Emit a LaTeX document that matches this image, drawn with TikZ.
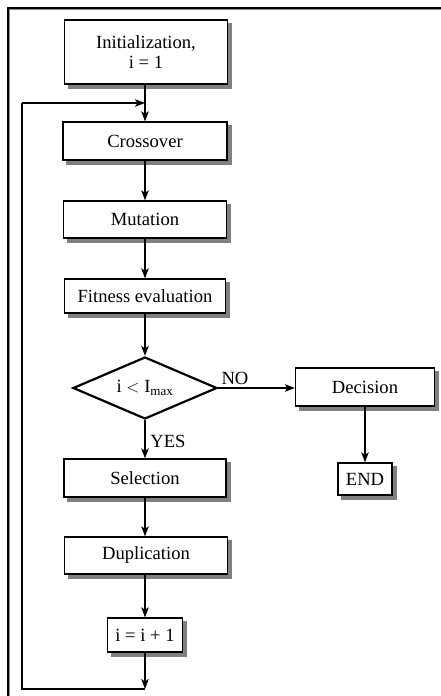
\documentclass[tikz,border=0pt]{standalone}
\usepackage{fontspec}
\setmainfont{Liberation Serif}
\usetikzlibrary{arrows.meta,shapes.geometric,backgrounds}
\begin{document}
\begin{tikzpicture}[x=1pt,y=-1pt,
  font=\fontsize{18.6}{21}\selectfont,
  stepbox/.style={draw=black,line width=1.3pt,fill=white,inner sep=0pt,align=center},
  shadowbox/.style={fill=black!50},
  testbox/.style={draw=black,line width=2.2pt,fill=white,shape=diamond,inner sep=0pt,aspect=2.3},
  arr/.style={line width=1.5pt,-{Stealth[length=10pt,width=7.5pt,inset=2.5pt]}},
  plain/.style={line width=1.5pt},
  lbl/.style={inner sep=0pt}]
\useasboundingbox (0,0) rectangle (441,696);
% frame (only top and left visible)
\draw[black!45,line width=1.5pt] (9.5,700) -- (9.5,9.5) -- (445,9.5);
\draw[black,line width=1.5pt] (8,700) -- (8,8) -- (445,8);
% nodes
\node[stepbox,minimum width=163pt,minimum height=64pt] (init) at (146,52) {Initialization,\\[-1pt] i = 1};
\node[stepbox,minimum width=164pt,minimum height=38pt] (cross) at (145,141) {Crossover};
\node[stepbox,minimum width=163pt,minimum height=37pt] (mut) at (145,219.5) {Mutation};
\node[stepbox,minimum width=161pt,minimum height=34pt] (fit) at (145,296) {Fitness evaluation};
\node[testbox,minimum width=144pt,minimum height=62pt] (test) at (145,388) {i $<$ I\textsubscript{max}};
\node[stepbox,minimum width=162pt,minimum height=38pt] (sel) at (145,478) {Selection};
\node[stepbox,minimum width=163pt,minimum height=37pt] (dup) at (146,555.5) {Duplication};
\node[stepbox,minimum width=75pt,minimum height=34pt] (inc) at (145,635) {i = i + 1};
\node[stepbox,minimum width=139pt,minimum height=38pt] (dec) at (365,387) {Decision};
\node[stepbox,minimum width=54pt,minimum height=32pt] (fin) at (365,479) {END};
\node[lbl] (no) at (235,378.5) {NO};
\node[lbl] (yes) at (168,441.5) {YES};
% drop shadows
\begin{scope}[on background layer]
\foreach \n in {init,cross,mut,fit,sel,dup,inc,dec,fin}
  \fill[shadowbox] ([shift={(4,4)}]\n.north west) rectangle ([shift={(4,4)}]\n.south east);
\end{scope}
% junction points of the loop
\coordinate (jt) at (145,103);
\coordinate (jb) at (145,689);
\coordinate (lt) at (22,103);
\coordinate (lb) at (22,689);
% connectors
\draw[arr] (145,84) -- (cross.north);
\draw[arr] (cross) -- (mut);
\draw[arr] (mut) -- (fit);
\draw[arr] (fit.south) -- (test.north);
\draw[arr] (test.east) -- (dec.west |- test.east);
\draw[arr] (test.south) -- (sel.north);
\draw[arr] (sel) -- (dup.north -| sel.south);
\draw[arr] (dup.south -| inc.north) -- (inc.north);
\draw[arr] (inc.south) -- (jb);
\draw[plain] (jb) -- (lb) -- (lt);
\draw[arr] (lt) -- (jt);
\draw[arr] (dec.south) -- (dec.south |- fin.north);
\end{tikzpicture}
\end{document}
